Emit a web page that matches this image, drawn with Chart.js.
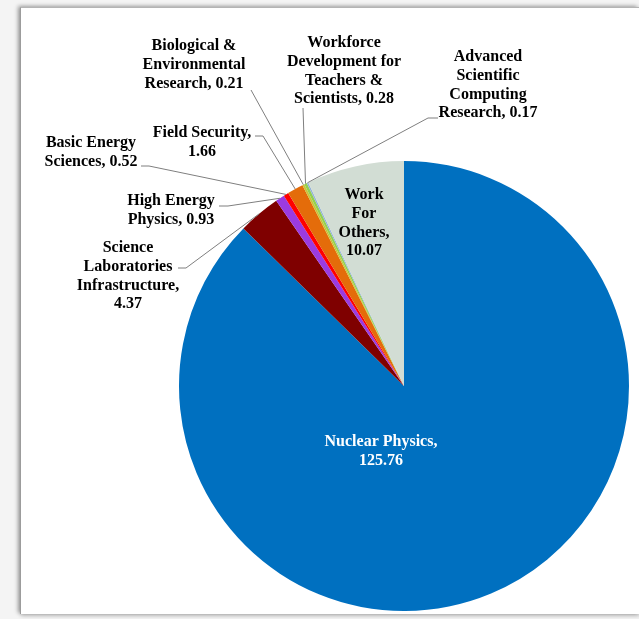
<!DOCTYPE html>
<html>
<head>
<meta charset="utf-8">
<title>Funding by program</title>
<script src="https://cdn.jsdelivr.net/npm/chart.js@4.4.0/dist/chart.umd.min.js"></script>
<style>
    html, body { margin: 0; padding: 0; background: #f4f4f4; overflow: hidden; }
    #frame {
        position: absolute; left: 20px; top: 7px; width: 618px; height: 606px;
        background: #fff;
        border-left: 1px solid #9c9c9c; border-top: 1px solid #b4b4b4;
        box-shadow: -2px -1px 4px rgba(0,0,0,0.35), 1px 2px 4px rgba(0,0,0,0.2);
    }
    #chart { position: absolute; left: 0; top: 0; }
</style>
</head>
<body>
<div id="frame"></div>
<canvas id="chart" width="639" height="619"></canvas>
<script>
// --- dados ---
const categories = [
    'Nuclear Physics',
    'Science Laboratories Infrastructure',
    'High Energy Physics',
    'Basic Energy Sciences',
    'Field Security',
    'Biological & Environmental Research',
    'Workforce Development for Teachers & Scientists',
    'Advanced Scientific Computing Research',
    'Work For Others'
];
const values = [125.76, 4.37, 0.93, 0.52, 1.66, 0.21, 0.28, 0.17, 10.07];
const sliceColors = ['#0070C0', '#7F0000', '#9B3BE0', '#FF0000', '#E46C0A', '#C9C43A', '#92D050', '#95B3D7', '#D2DDD4'];

// onde cada rótulo fica e como quebra as linhas
const labelSpots = [
    { x: 381, y: 442, lines: ['Nuclear Physics'], ownLine: true, color: '#ffffff' },
    { x: 128, y: 248, lines: ['Science', 'Laboratories', 'Infrastructure'], ownLine: true, leader: [[178, 268], [186, 268]] },
    { x: 171, y: 201, lines: ['High Energy', 'Physics'], ownLine: false, leader: [[219, 206], [228, 206]] },
    { x: 91,  y: 143, lines: ['Basic Energy', 'Sciences'], ownLine: false, leader: [[141, 166], [149, 166]] },
    { x: 202, y: 133, lines: ['Field Security'], ownLine: true, leader: [[255, 136], [263, 136]] },
    { x: 194, y: 46,  lines: ['Biological &', 'Environmental', 'Research'], ownLine: false, leader: [[251, 90]] },
    { x: 344, y: 43,  lines: ['Workforce', 'Development for', 'Teachers &', 'Scientists'], ownLine: false, leader: [[303, 108]] },
    { x: 488, y: 57,  lines: ['Advanced', 'Scientific', 'Computing', 'Research'], ownLine: false, leader: [[438, 118], [428, 118]] },
    { x: 364, y: 195, lines: ['Work', 'For', 'Others'], ownLine: true }
];

const buildLines = (spot, value) => {
    const lines = spot.lines.slice();
    const txt = value.toFixed(2);
    if (spot.ownLine) {
        lines[lines.length - 1] += ',';
        lines.push(txt);
    } else {
        lines[lines.length - 1] += ', ' + txt;
    }
    return lines;
};

// rótulos com linhas de chamada até a borda da fatia
const sliceLabels = {
    id: 'sliceLabels',
    afterDatasetsDraw(chart) {
        const ctx = chart.ctx;
        const arcs = chart.getDatasetMeta(0).data;
        ctx.save();
        ctx.font = 'bold 16px "Liberation Serif", "Times New Roman", serif';
        ctx.textAlign = 'center';
        ctx.textBaseline = 'middle';
        labelSpots.forEach((spot, i) => {
            const arc = arcs[i];
            if (spot.leader) {
                const mid = (arc.startAngle + arc.endAngle) / 2;
                const ex = arc.x + Math.cos(mid) * arc.outerRadius;
                const ey = arc.y + Math.sin(mid) * arc.outerRadius;
                ctx.strokeStyle = '#7f7f7f';
                ctx.lineWidth = 1;
                ctx.beginPath();
                ctx.moveTo(spot.leader[0][0], spot.leader[0][1]);
                spot.leader.slice(1).forEach(p => ctx.lineTo(p[0], p[1]));
                ctx.lineTo(ex, ey);
                ctx.stroke();
            }
            ctx.fillStyle = spot.color || '#000000';
            buildLines(spot, values[i]).forEach((ln, k) => {
                ctx.fillText(ln, spot.x, spot.y + k * 18.7);
            });
        });
        ctx.restore();
    }
};

new Chart(document.getElementById('chart').getContext('2d'), {
    type: 'pie',
    data: {
        labels: categories,
        datasets: [{
            data: values,
            backgroundColor: sliceColors,
            borderWidth: 0
        }]
    },
    options: {
        responsive: false,
        animation: false,
        layout: { padding: { left: 179, right: 10, top: 161, bottom: 8 } },
        plugins: { legend: { display: false }, tooltip: { enabled: false } }
    },
    plugins: [sliceLabels]
});
</script>
</body>
</html>
